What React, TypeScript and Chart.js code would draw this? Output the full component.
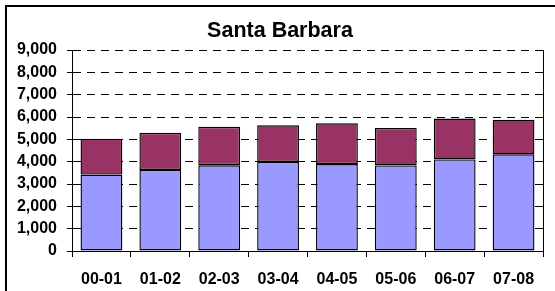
import React, { useEffect, useRef } from "react";
import { Chart, registerables } from "chart.js";

Chart.register(...registerables);

const title = "Santa Barbara";
const categories = ["00-01", "01-02", "02-03", "03-04", "04-05", "05-06", "06-07", "07-08"];
const lowerValues = [3420, 3630, 3840, 3990, 3890, 3830, 4100, 4330];
const upperValues = [1610, 1660, 1720, 1640, 1830, 1680, 1830, 1550];
const yMin = 0;
const yMax = 9000;
const yStep = 1000;

const FONT = "'Liberation Sans', Arial, sans-serif";

const rightBorder = {
  id: "rightBorder",
  afterDraw(chart: any) {
    const { ctx, chartArea } = chart;
    ctx.save();
    ctx.strokeStyle = "#000";
    ctx.lineWidth = 1;
    ctx.beginPath();
    ctx.moveTo(Math.round(chartArea.right) + 0.5, chartArea.top);
    ctx.lineTo(Math.round(chartArea.right) + 0.5, chartArea.bottom);
    ctx.stroke();
    ctx.restore();
  },
};

export default function App() {
  const ref = useRef<HTMLCanvasElement | null>(null);
  useEffect(() => {
    if (!ref.current) return;
    const chart = new Chart(ref.current, {
      type: "bar",
      data: {
        labels: categories,
        datasets: [
          {
            data: lowerValues,
            backgroundColor: "#9999FF",
            borderColor: "#000",
            borderWidth: 1.4,
            borderSkipped: false,
          },
          {
            data: upperValues,
            backgroundColor: "#993366",
            borderColor: "#000",
            borderWidth: 1.4,
            borderSkipped: false,
          },
        ],
      },
      options: {
        responsive: false,
        animation: false,
        layout: { padding: { left: 17, right: 12, top: 0, bottom: 0 } },
        datasets: { bar: { barPercentage: 0.71, categoryPercentage: 1 } },
        plugins: {
          legend: { display: false },
          tooltip: { enabled: false },
          title: {
            display: true,
            text: title,
            color: "#000",
            font: { family: FONT, size: 21.5, weight: "bold" },
            padding: { top: 18, bottom: 6.2 },
          },
        },
        scales: {
          x: {
            stacked: true,
            offset: true,
            border: { display: true, color: "#000", width: 1 },
            grid: {
              display: true,
              offset: true,
              drawOnChartArea: false,
              drawTicks: true,
              tickLength: 6,
              color: "#000",
            },
            ticks: {
              color: "#000",
              font: { family: FONT, size: 16, weight: "bold" },
              padding: 13,
              maxRotation: 0,
            },
            afterFit(scale: any) {
              scale.height = 40;
            },
          },
          y: {
            stacked: true,
            min: yMin,
            max: yMax,
            border: { display: true, color: "#000", width: 1, dash: [8, 6] },
            grid: {
              color: "#000",
              drawTicks: true,
              tickLength: 5,
              tickColor: "#000",
              tickBorderDash: [1, 0],
            },
            ticks: {
              stepSize: yStep,
              color: "#000",
              font: { family: FONT, size: 16, weight: "bold" },
              padding: 10,
              callback: (v: any) => Number(v).toLocaleString("en-US"),
            },
            afterFit(scale: any) {
              scale.width = 55;
            },
          },
        },
      },
      plugins: [rightBorder],
    });
    return () => chart.destroy();
  }, []);

  return (
    <div
      style={{
        position: "fixed",
        left: 0,
        top: 0,
        width: 555,
        height: 291,
        background: "#fff",
        overflow: "hidden",
      }}
    >
      <canvas
        ref={ref}
        width={555}
        height={291}
        style={{ position: "absolute", left: 0, top: 0, width: 555, height: 291 }}
      />
      <div
        style={{
          position: "absolute",
          left: 5,
          top: 5,
          width: 600,
          height: 400,
          border: "2px solid #000",
          pointerEvents: "none",
        }}
      />
    </div>
  );
}
